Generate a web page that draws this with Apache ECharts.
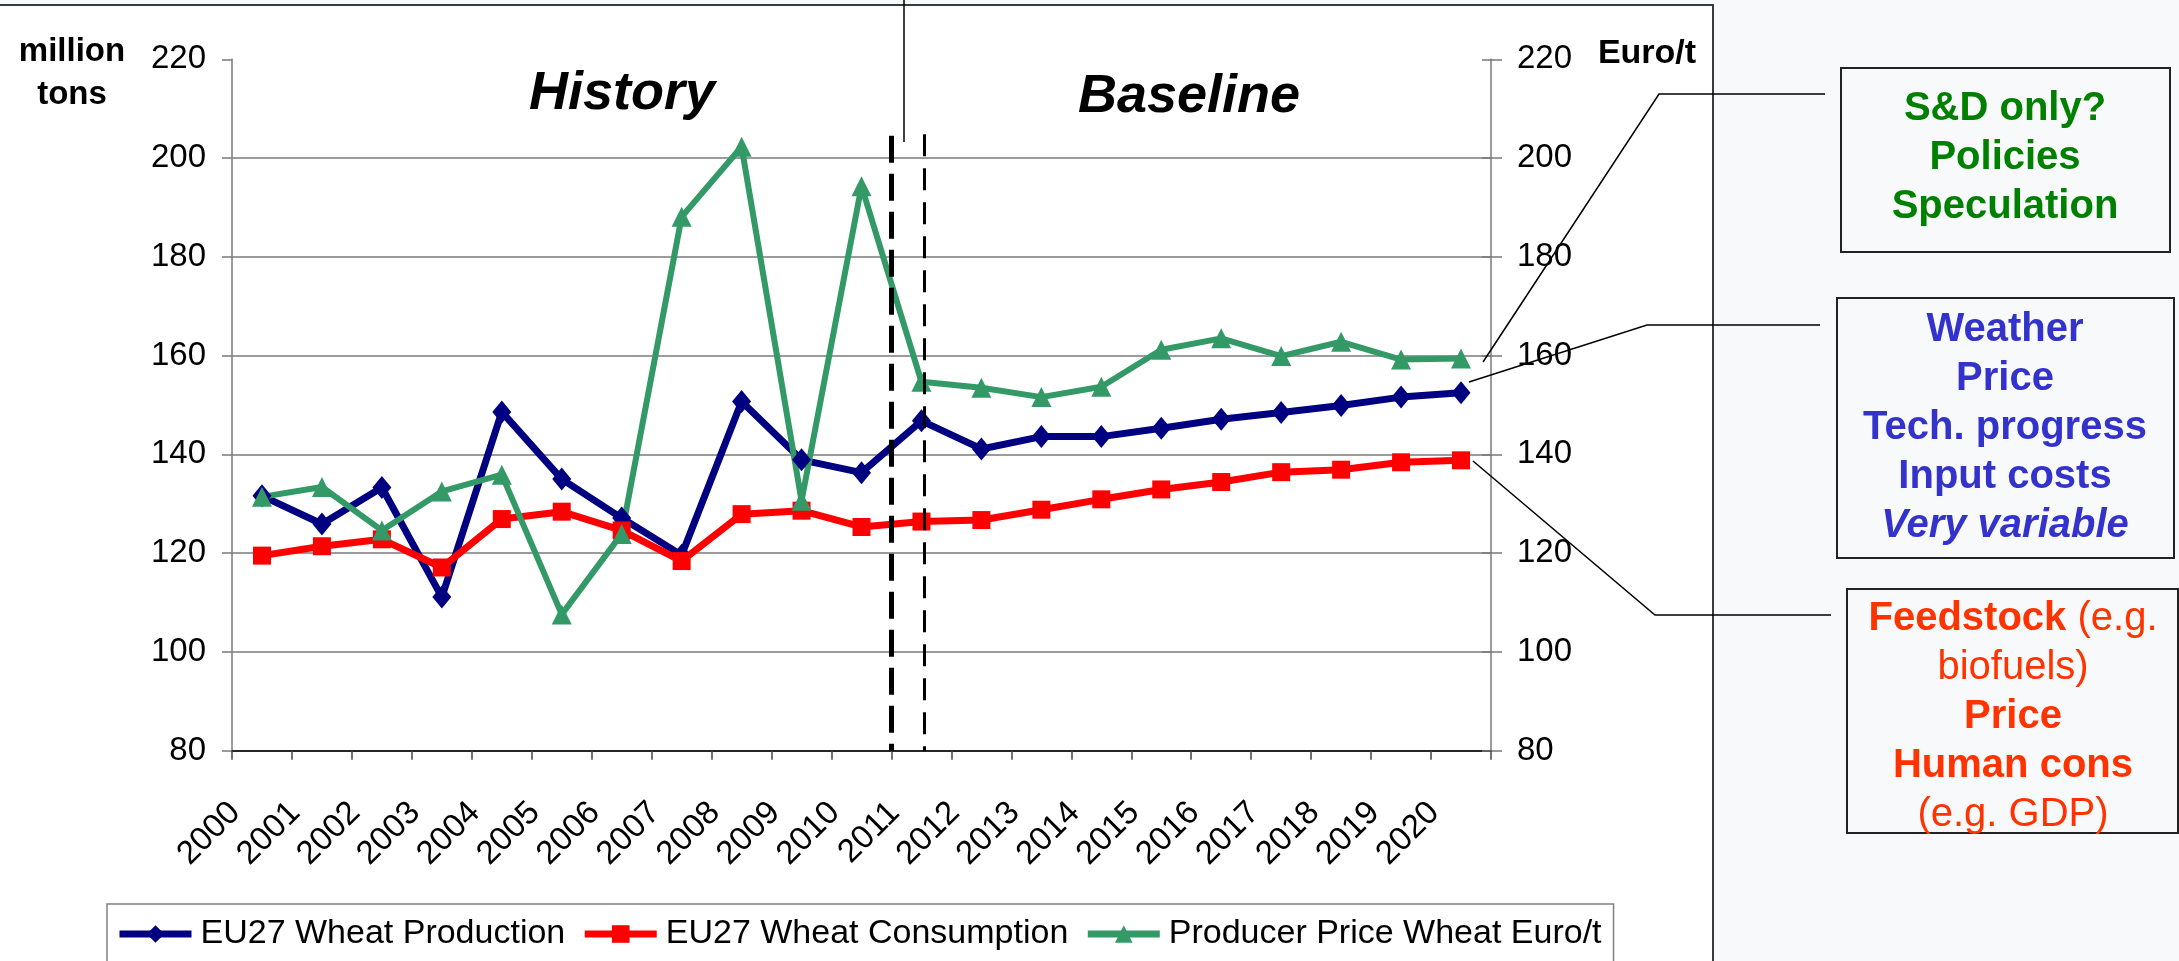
<!DOCTYPE html>
<html>
<head>
<meta charset="utf-8">
<script src="https://cdn.jsdelivr.net/npm/echarts@6/dist/echarts.min.js"></script>
<style>
  html, body { margin: 0; padding: 0; background: #f8f9fb; overflow: hidden; }
  #frame { position: absolute; left: -3px; top: 4px; width: 1713px; height: 980px;
           background: #fff; border: 2px solid #3a3a3a; }
  #main { position: absolute; left: 0; top: 0; width: 2179px; height: 961px; }
</style>
</head>
<body>
<div id="frame"></div>
<div id="main"></div>
<script>
// values
const years = ['2000', '2001', '2002', '2003', '2004', '2005', '2006', '2007', '2008', '2009', '2010',
  '2011', '2012', '2013', '2014', '2015', '2016', '2017', '2018', '2019', '2020'];
const production = [131.6, 125.9, 133.3, 111.1, 148.6, 135.0, 127.1, 119.6, 150.7, 138.9, 136.3,
  146.8, 141.1, 143.6, 143.6, 145.3, 147.1, 148.5, 149.9, 151.6, 152.5];
const consumption = [119.5, 121.4, 122.8, 117.1, 126.9, 128.4, 124.6, 118.4, 127.9, 128.6, 125.3,
  126.4, 126.7, 128.8, 130.9, 132.9, 134.4, 136.4, 136.9, 138.4, 138.8];
const price = [131.4, 133.4, 124.6, 132.5, 135.9, 107.6, 123.9, 188.1, 202.3, 130.6, 194.3,
  154.7, 153.5, 151.6, 153.7, 161.2, 163.5, 159.9, 162.8, 159.2, 159.4];
const seriesNames = ['EU27 Wheat Production', 'EU27 Wheat Consumption', 'Producer Price Wheat Euro/t'];
const yMin = 80, yMax = 220, yStep = 20;
// history / baseline split, in category units on a hidden value axis
const splitAt = [11.0, 11.55];

const FONT = 'Liberation Sans, Arial, sans-serif';
const grey = '#7a7a7a';

const chart = echarts.init(document.getElementById('main'), null, { renderer: 'canvas' });

function boxText(x, y, text, color, rich) {
  return {
    type: 'text', x: x, y: y, z: 100,
    style: {
      text: text, fill: color, align: 'center', verticalAlign: 'middle',
      fontFamily: FONT, fontSize: 40, fontWeight: 'bold', lineHeight: 49,
      rich: rich
    }
  };
}

const option = {
  animation: false,
  textStyle: { fontFamily: FONT, color: '#000' },
  grid: { left: 232, right: 688, top: 59.3, bottom: 210.3, containLabel: false, outerBoundsMode: 'none' },
  legend: {
    data: seriesNames,
    left: 107, top: 904,
    padding: [13, 12, 40, 9],
    borderColor: '#808080', borderWidth: 1.5,
    itemGap: 16, itemWidth: 72, itemHeight: 22,
    lineStyle: { width: 7 },
    textStyle: { fontSize: 34, color: '#000', fontFamily: FONT, padding: [0, 0, 0, 4] }
  },
  xAxis: [{
    type: 'category',
    data: years,
    boundaryGap: true,
    axisLine: { lineStyle: { color: '#000', width: 1.5 } },
    axisTick: { show: true, length: 9, lineStyle: { color: '#444', width: 1.5 } },
    axisLabel: { interval: 0, rotate: 45, fontSize: 33, color: '#000', margin: 30, padding: [0, 38, 0, 0] },
    splitLine: { show: false }
  }, {
    type: 'value', min: 0, max: 21, show: false
  }],
  yAxis: [{
    type: 'value', min: yMin, max: yMax, interval: yStep, position: 'left',
    axisLine: { show: true, lineStyle: { color: grey, width: 1.5 } },
    axisTick: { show: true, length: 10, lineStyle: { color: grey, width: 1.5 } },
    axisLabel: { fontSize: 33, color: '#000', margin: 26 },
    splitLine: { show: true, lineStyle: { color: [grey, grey, grey, grey, grey, grey, grey, 'transparent'], width: 1.5 } }
  }, {
    type: 'value', min: yMin, max: yMax, interval: yStep, position: 'right',
    axisLine: { show: true, lineStyle: { color: grey, width: 1.5 } },
    axisTick: { show: true, length: 11, lineStyle: { color: grey, width: 1.5 } },
    axisLabel: { fontSize: 33, color: '#000', margin: 26 },
    splitLine: { show: false }
  }, {
    type: 'value', min: yMin, max: yMax, interval: yStep, position: 'right',
    axisLine: { show: false },
    axisTick: { show: true, inside: true, length: 9, lineStyle: { color: grey, width: 1.5 } },
    axisLabel: { show: false },
    splitLine: { show: false }
  }],
  series: [{
    name: seriesNames[0], type: 'line', data: production, yAxisIndex: 0,
    symbol: 'diamond', symbolSize: [19, 23],
    lineStyle: { color: '#000080', width: 7 },
    itemStyle: { color: '#000080' }
  }, {
    name: seriesNames[1], type: 'line', data: consumption, yAxisIndex: 0,
    symbol: 'rect', symbolSize: 18,
    lineStyle: { color: '#ff0000', width: 7 },
    itemStyle: { color: '#ff0000' }
  }, {
    name: seriesNames[2], type: 'line', data: price, yAxisIndex: 1,
    symbol: 'triangle', symbolSize: 20,
    lineStyle: { color: '#339966', width: 6 },
    itemStyle: { color: '#339966' }
  }, {
    name: 'split', type: 'line', xAxisIndex: 1, yAxisIndex: 0, data: [],
    markLine: {
      silent: true, symbol: ['none', 'none'], label: { show: false },
      data: [
        [{ coord: [splitAt[0], 204.5], lineStyle: { color: '#000', width: 5, type: [27, 11] } }, { coord: [splitAt[0], yMin] }],
        [{ coord: [splitAt[1], 204.8], lineStyle: { color: '#000', width: 3, type: [22, 12] } }, { coord: [splitAt[1], yMin] }]
      ]
    }
  }],
  graphic: [
    { type: 'text', x: 72, y: 73, style: { text: 'million\ntons', fontFamily: FONT, fontSize: 33, fontWeight: 'bold', lineHeight: 43, fill: '#000', align: 'center', verticalAlign: 'middle' } },
    { type: 'text', x: 1647, y: 54, style: { text: 'Euro/t', fontFamily: FONT, fontSize: 34, fontWeight: 'bold', fill: '#000', align: 'center', verticalAlign: 'middle' } },
    { type: 'text', x: 622, y: 94, style: { text: 'History', fontFamily: FONT, fontSize: 54, fontWeight: 'bold', fontStyle: 'italic', fill: '#000', align: 'center', verticalAlign: 'middle' } },
    { type: 'text', x: 1189, y: 97, style: { text: 'Baseline', fontFamily: FONT, fontSize: 54, fontWeight: 'bold', fontStyle: 'italic', fill: '#000', align: 'center', verticalAlign: 'middle' } },

    // callout lines
    { type: 'polyline', z: 100, shape: { points: [[904, 0], [904, 142]] }, style: { stroke: '#000', lineWidth: 1.5, fill: null } },
    { type: 'polyline', z: 100, shape: { points: [[1483, 362], [1659, 94], [1825, 94]] }, style: { stroke: '#000', lineWidth: 1.5, fill: null } },
    { type: 'polyline', z: 100, shape: { points: [[1469, 382], [1647, 325], [1820, 325]] }, style: { stroke: '#000', lineWidth: 1.5, fill: null } },
    { type: 'polyline', z: 100, shape: { points: [[1473, 461], [1655, 615], [1831, 615]] }, style: { stroke: '#000', lineWidth: 1.5, fill: null } },

    // side boxes
    { type: 'rect', z: 100, shape: { x: 1841, y: 68, width: 329, height: 184 }, style: { fill: null, stroke: '#222', lineWidth: 2 } },
    { type: 'rect', z: 100, shape: { x: 1837, y: 298, width: 337, height: 260 }, style: { fill: null, stroke: '#222', lineWidth: 2 } },
    { type: 'rect', z: 100, shape: { x: 1847, y: 589, width: 331, height: 244 }, style: { fill: null, stroke: '#222', lineWidth: 2 } },

    boxText(2005, 158, 'S&D only?\nPolicies\nSpeculation', '#008000'),
    boxText(2005, 428, '{b|Weather}\n{b|Price}\n{b|Tech. progress}\n{b|Input costs}\n{i|Very variable}', '#3333cc', {
      b: { fontFamily: FONT, fontSize: 40, fontWeight: 'bold', lineHeight: 49, fill: '#3333cc' },
      i: { fontFamily: FONT, fontSize: 40, fontWeight: 'bold', fontStyle: 'italic', lineHeight: 49, fill: '#3333cc' }
    }),
    boxText(2013, 717, '{b|Feedstock} {n|(e.g.}\n{n|biofuels)}\n{b|Price}\n{b|Human cons}\n{n|(e.g. GDP)}', '#ff3300', {
      b: { fontFamily: FONT, fontSize: 40, fontWeight: 'bold', lineHeight: 49, fill: '#ff3300' },
      n: { fontFamily: FONT, fontSize: 40, fontWeight: 'normal', lineHeight: 49, fill: '#ff3300' }
    })
  ]
};

chart.setOption(option);
</script>
</body>
</html>
